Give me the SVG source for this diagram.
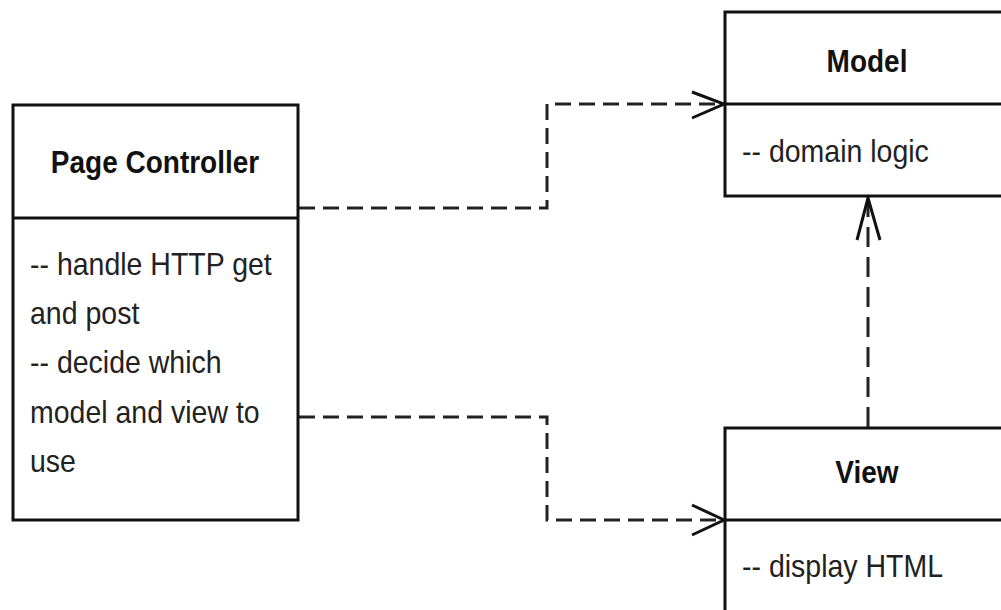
<svg xmlns="http://www.w3.org/2000/svg" width="1001" height="610" viewBox="0 0 1001 610">
<style>
.box{fill:#fff;stroke:#111;stroke-width:3}
.div{stroke:#111;stroke-width:3}
.title{font-family:"Liberation Sans",Arial,sans-serif;font-weight:bold;font-size:28px;fill:#111;text-anchor:middle}
.body{font-family:"Liberation Sans",Arial,sans-serif;font-size:28.5px;fill:#222}
.dash{fill:none;stroke:#222;stroke-width:3;stroke-dasharray:16 8}
.vdash{fill:none;stroke:#222;stroke-width:3;stroke-dasharray:20 10}
.head{fill:none;stroke:#111;stroke-width:3;stroke-linejoin:miter}
</style>
<rect width="1001" height="610" fill="#fff"/>
<g id="connectors">
<path class="dash" d="M299 208 H547 V104 H722"/>
<polyline class="head" points="692,92 724,104 692,118"/>
<path class="dash" d="M299 417 H547 V520 H722"/>
<polyline class="head" points="692,505 724,520 692,535"/>
<path class="vdash" d="M868 427 V200"/>
<polyline class="head" points="857,240 868,198 880,240"/>
</g>
<g id="page-controller">
<rect class="box" x="13" y="105" width="285" height="415"/>
<line class="div" x1="13" y1="218" x2="298" y2="218"/>
<text class="title" transform="translate(155 173) scale(1 1.1)">Page Controller</text>
<text class="body" transform="translate(30 275) scale(1 1.12)">-- handle HTTP get</text>
<text class="body" transform="translate(30 324) scale(1 1.12)">and post</text>
<text class="body" transform="translate(30 373) scale(1 1.12)">-- decide which</text>
<text class="body" transform="translate(30 423) scale(1 1.12)">model and view to</text>
<text class="body" transform="translate(30 472) scale(1 1.12)">use</text>
</g>
<g id="model">
<rect class="box" x="725" y="12" width="300" height="184"/>
<line class="div" x1="725" y1="104" x2="1010" y2="104"/>
<text class="title" transform="translate(867 72) scale(1 1.1)">Model</text>
<text class="body" transform="translate(742 162) scale(1 1.12)">-- domain logic</text>
</g>
<g id="view">
<rect class="box" x="725" y="428" width="300" height="200"/>
<line class="div" x1="725" y1="520" x2="1010" y2="520"/>
<text class="title" transform="translate(867 483) scale(1 1.1)">View</text>
<text class="body" transform="translate(742 577) scale(1 1.12)">-- display HTML</text>
</g>
</svg>
